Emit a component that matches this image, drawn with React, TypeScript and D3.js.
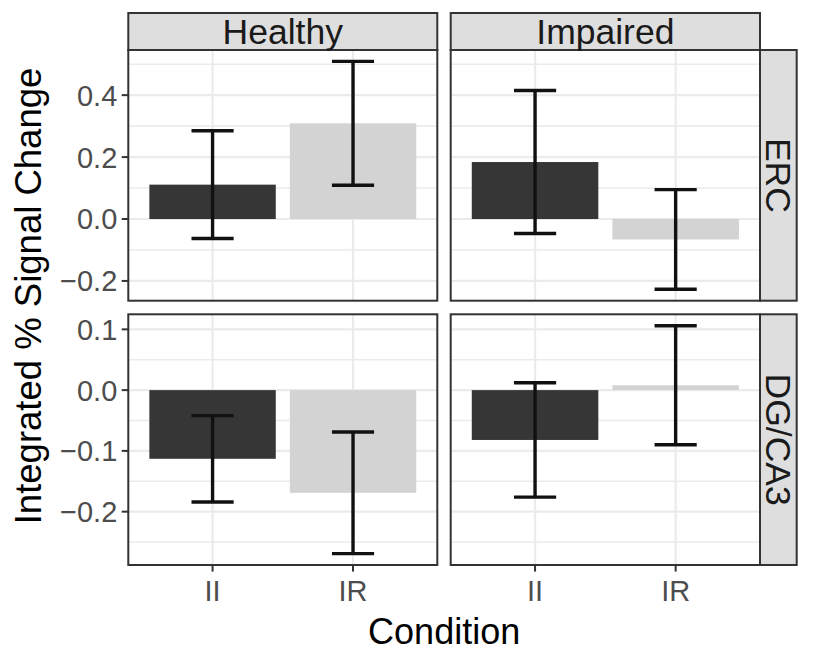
import React from "react";
import * as d3 from "d3";

const groups = ["Healthy", "Impaired"];
const regions = ["ERC", "DG/CA3"];
const conditions = ["II", "IR"];

// means and error half-widths per region, group, condition
const ercHealthyMean = [0.111, 0.309];
const ercHealthySe = [0.174, 0.2];
const ercImpairedMean = [0.184, -0.066];
const ercImpairedSe = [0.231, 0.161];
const dgHealthyMean = [-0.113, -0.169];
const dgHealthySe = [0.071, 0.1];
const dgImpairedMean = [-0.082, 0.008];
const dgImpairedSe = [0.094, 0.098];

const barColors = ["#363636", "#D3D3D3"];

type Row = { region: string; group: string; cond: string; mean: number; se: number };

const build = (region: string, group: string, means: number[], ses: number[]): Row[] =>
  conditions.map((c, i) => ({ region, group, cond: c, mean: means[i], se: ses[i] }));

const data: Row[] = [
  ...build("ERC", "Healthy", ercHealthyMean, ercHealthySe),
  ...build("ERC", "Impaired", ercImpairedMean, ercImpairedSe),
  ...build("DG/CA3", "Healthy", dgHealthyMean, dgHealthySe),
  ...build("DG/CA3", "Impaired", dgImpairedMean, dgImpairedSe),
];

const W = 813;
const H = 656;
const colX = [
  [128.3, 437.3],
  [450.7, 760],
];
const rowY = [
  [50, 300.7],
  [314.3, 565],
];
const stripTop = 13;
const stripRight = [760, 796.7];
const FONT = "'Liberation Sans', Arial, Helvetica, sans-serif";

export default function App() {
  const yScales = regions.map((reg, ri) => {
    const rows = data.filter((d) => d.region === reg);
    const lo = Math.min(0, d3.min(rows, (d) => d.mean - d.se) as number);
    const hi = Math.max(0, d3.max(rows, (d) => d.mean + d.se) as number);
    const pad = (hi - lo) * 0.05;
    return d3.scaleLinear().domain([lo - pad, hi + pad]).range([rowY[ri][1], rowY[ri][0]]);
  });
  const xScales = groups.map((g, ci) =>
    d3.scalePoint<string>().domain(conditions).range([colX[ci][0], colX[ci][1]]).padding(0.6)
  );
  const fmt = d3.format(".1f");

  return (
    <svg
      width={W}
      height={H}
      style={{ position: "absolute", left: 0, top: 0, background: "#fff" }}
      fontFamily={FONT}
    >
      <rect x={0} y={0} width={W} height={H} fill="#fff" />
      {regions.map((reg, ri) => {
        const y = yScales[ri];
        const majors = y.ticks(5);
        const step = majors[1] - majors[0];
        const minors: number[] = [];
        for (let i = -1; i < majors.length; i++) {
          const v = (i < 0 ? majors[0] - step : majors[i]) + step / 2;
          const [d0, d1] = y.domain();
          if (v > d0 && v < d1) minors.push(v);
        }
        return (
          <g key={reg}>
            {groups.map((g, ci) => {
              const x = xScales[ci];
              const bw = x.step() * 0.9;
              const cw = x.step() * 0.3;
              const rows = data.filter((d) => d.region === reg && d.group === g);
              const [x0, x1] = colX[ci];
              return (
                <g key={g}>
                  <rect x={x0} y={rowY[ri][0]} width={x1 - x0} height={rowY[ri][1] - rowY[ri][0]} fill="#fff" />
                  {minors.map((v) => (
                    <line key={"mn" + v} x1={x0} x2={x1} y1={y(v)} y2={y(v)} stroke="#EBEBEB" strokeWidth={1.6} />
                  ))}
                  {majors.map((v) => (
                    <line key={"mj" + v} x1={x0} x2={x1} y1={y(v)} y2={y(v)} stroke="#EBEBEB" strokeWidth={2.2} />
                  ))}
                  {conditions.map((c) => (
                    <line key={"vx" + c} x1={x(c)} x2={x(c)} y1={rowY[ri][0]} y2={rowY[ri][1]} stroke="#EBEBEB" strokeWidth={2.2} />
                  ))}
                  {rows.map((d, i) => (
                    <rect
                      key={"b" + d.cond}
                      x={(x(d.cond) as number) - bw / 2}
                      width={bw}
                      y={Math.min(y(0), y(d.mean))}
                      height={Math.abs(y(d.mean) - y(0))}
                      fill={barColors[i]}
                    />
                  ))}
                  {rows.map((d) => {
                    const cx = x(d.cond) as number;
                    const yt = y(d.mean + d.se);
                    const yb = y(d.mean - d.se);
                    return (
                      <g key={"e" + d.cond} stroke="#111" strokeWidth={3.4}>
                        <line x1={cx} x2={cx} y1={yt} y2={yb} />
                        <line x1={cx - cw / 2} x2={cx + cw / 2} y1={yt} y2={yt} />
                        <line x1={cx - cw / 2} x2={cx + cw / 2} y1={yb} y2={yb} />
                      </g>
                    );
                  })}
                  <rect
                    x={x0}
                    y={rowY[ri][0]}
                    width={x1 - x0}
                    height={rowY[ri][1] - rowY[ri][0]}
                    fill="none"
                    stroke="#333333"
                    strokeWidth={2}
                  />
                </g>
              );
            })}
            {/* y axis */}
            {majors.map((v) => (
              <g key={"yt" + v}>
                <line x1={colX[0][0] - 6.6} x2={colX[0][0]} y1={y(v)} y2={y(v)} stroke="#333333" strokeWidth={2} />
                <text
                  x={colX[0][0] - 11}
                  y={y(v)}
                  dy="0.36em"
                  textAnchor="end"
                  fontSize={29}
                  fill="#4D4D4D"
                >
                  {fmt(v)}
                </text>
              </g>
            ))}
            {/* right strip */}
            <rect
              x={stripRight[0]}
              y={rowY[ri][0]}
              width={stripRight[1] - stripRight[0]}
              height={rowY[ri][1] - rowY[ri][0]}
              fill="#DEDEDE"
              stroke="#333333"
              strokeWidth={2}
            />
            <text
              transform={`translate(${(stripRight[0] + stripRight[1]) / 2},${(rowY[ri][0] + rowY[ri][1]) / 2}) rotate(90)`}
              textAnchor="middle"
              dy="0.36em"
              fontSize={35.5}
              fill="#1A1A1A"
            >
              {reg}
            </text>
          </g>
        );
      })}
      {/* top strips */}
      {groups.map((g, ci) => (
        <g key={"s" + g}>
          <rect
            x={colX[ci][0]}
            y={stripTop}
            width={colX[ci][1] - colX[ci][0]}
            height={rowY[0][0] - stripTop}
            fill="#DEDEDE"
            stroke="#333333"
            strokeWidth={2}
          />
          <text
            x={(colX[ci][0] + colX[ci][1]) / 2}
            y={(stripTop + rowY[0][0]) / 2}
            dy="0.36em"
            textAnchor="middle"
            fontSize={35.5}
            fill="#1A1A1A"
          >
            {g}
          </text>
        </g>
      ))}
      {/* x axis */}
      {groups.map((g, ci) =>
        conditions.map((c) => {
          const cx = xScales[ci](c) as number;
          return (
            <g key={g + c}>
              <line x1={cx} x2={cx} y1={rowY[1][1]} y2={rowY[1][1] + 6.6} stroke="#333333" strokeWidth={2} />
              <text x={cx} y={601} textAnchor="middle" fontSize={29} fill="#4D4D4D">
                {c}
              </text>
            </g>
          );
        })
      )}
      <text x={(colX[0][0] + colX[1][1]) / 2} y={644} textAnchor="middle" fontSize={36} fill="#000">
        Condition
      </text>
      <text
        transform={`translate(41,296) rotate(-90)`}
        textAnchor="middle"
        fontSize={36.5}
        fill="#000"
      >
        Integrated % Signal Change
      </text>
    </svg>
  );
}
